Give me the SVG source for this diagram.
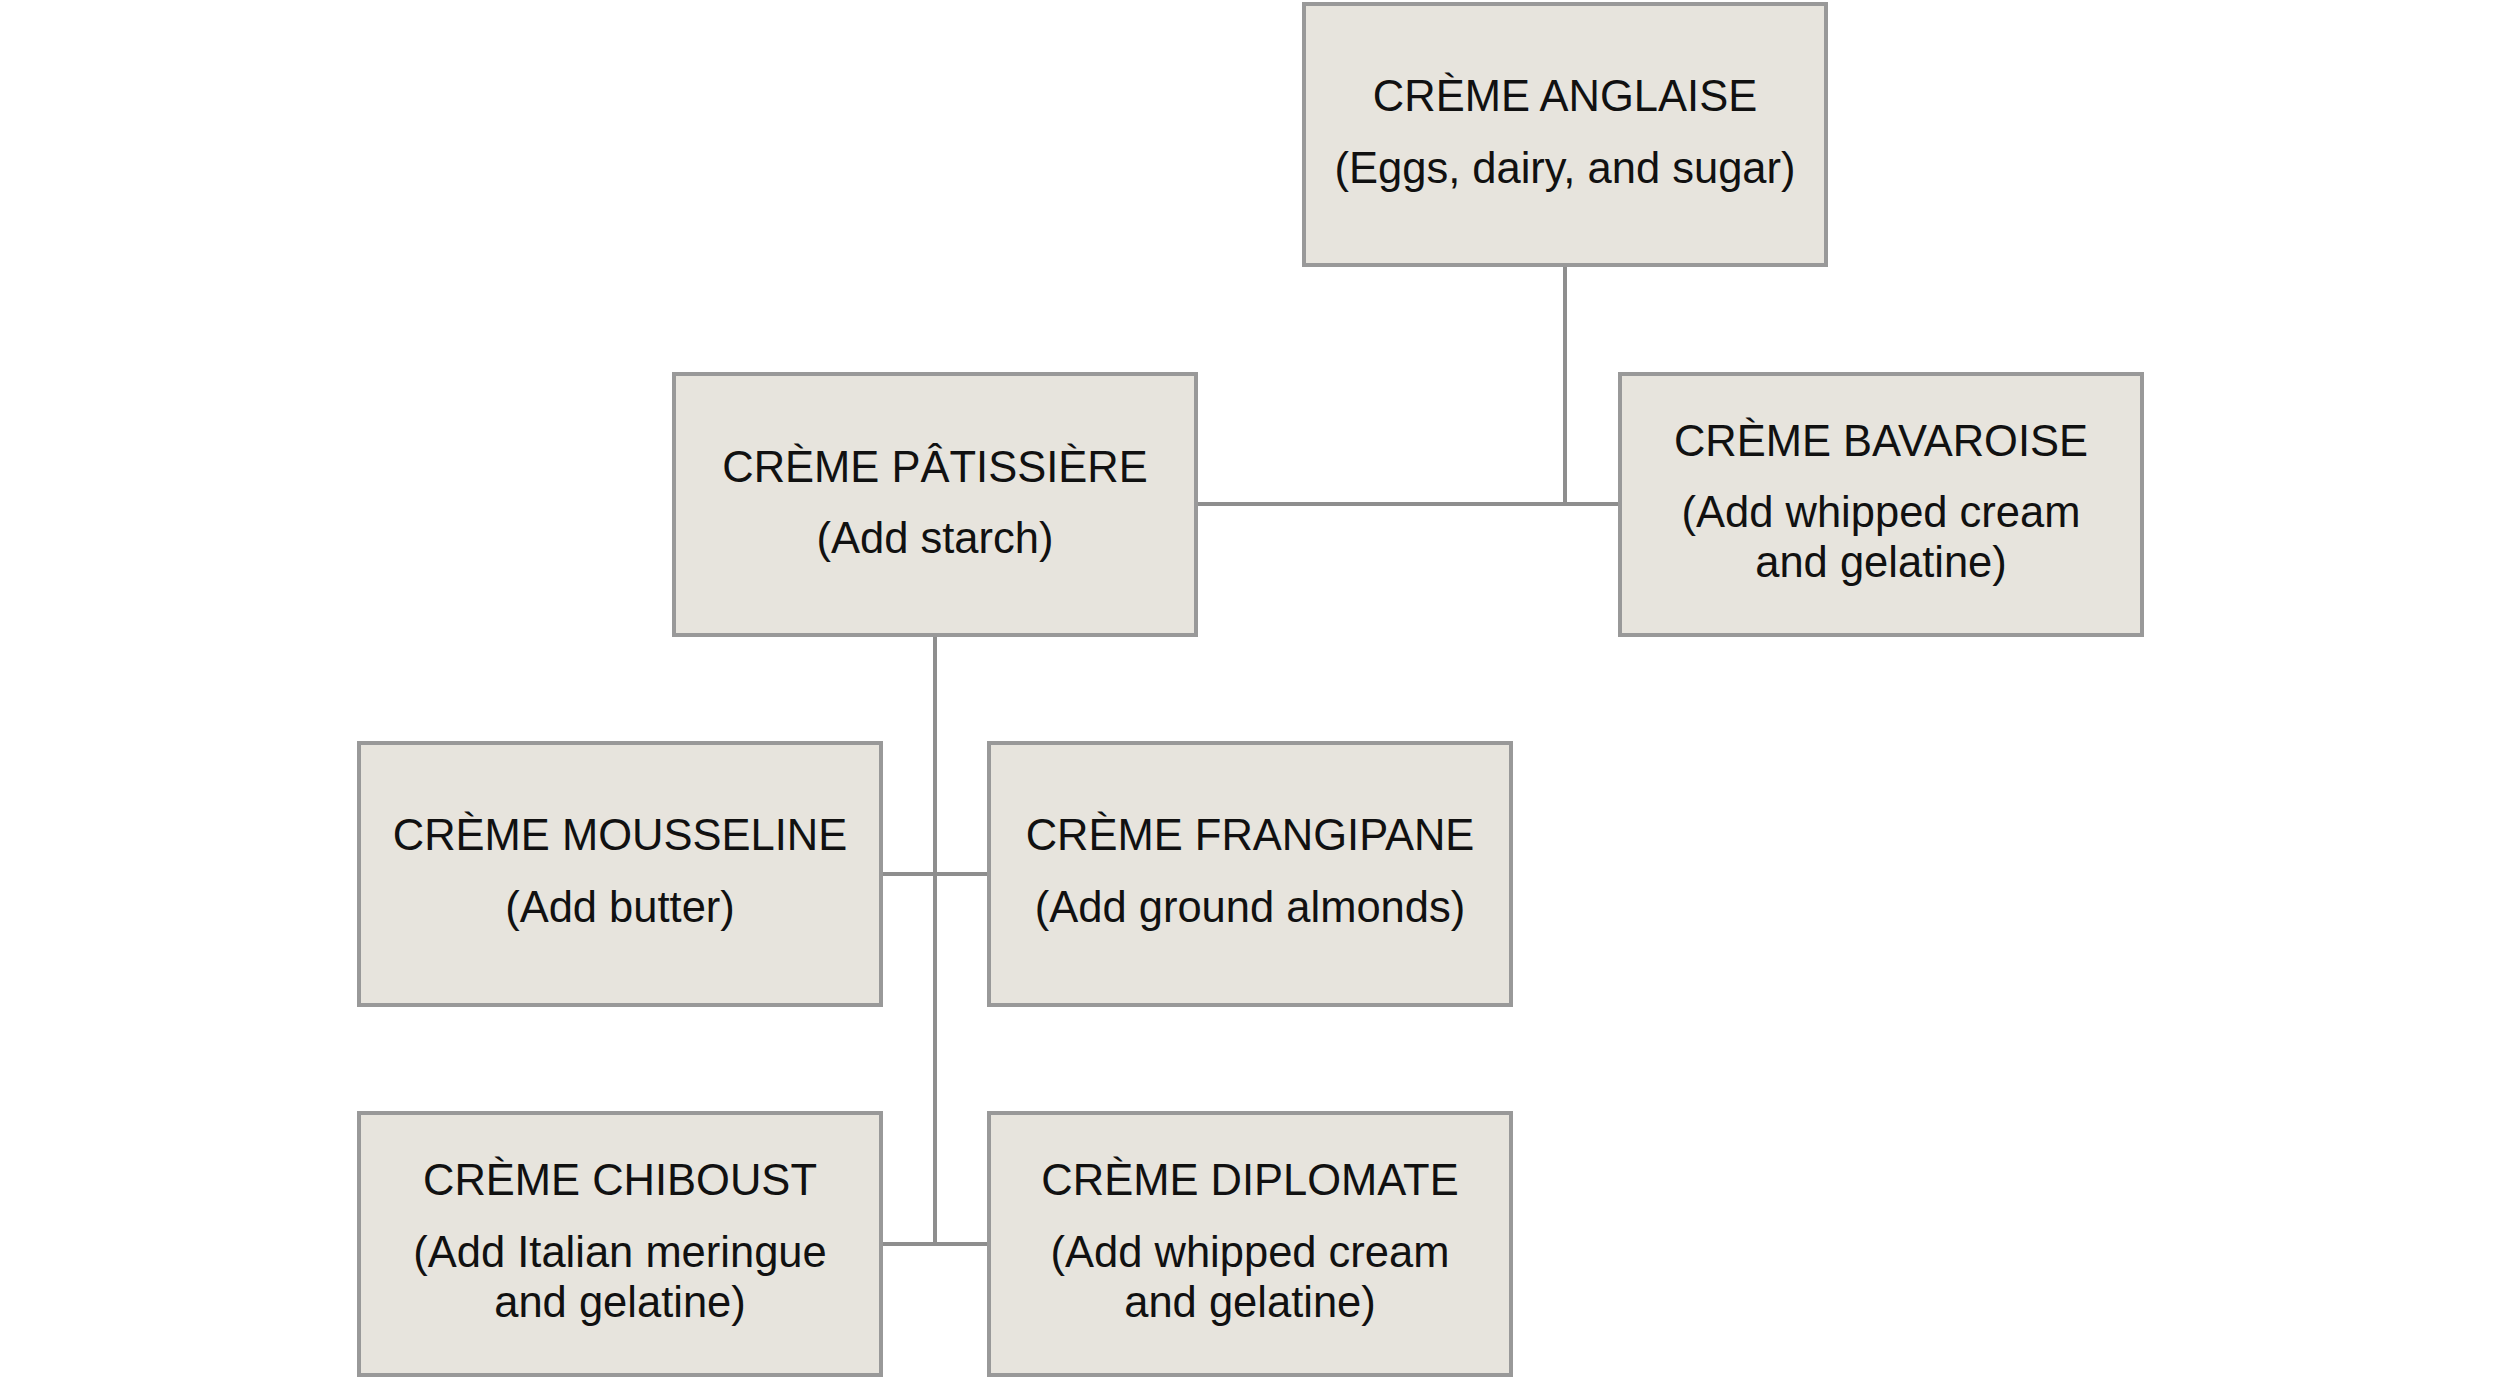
<svg xmlns="http://www.w3.org/2000/svg" width="2500" height="1378" viewBox="0 0 2500 1378">
<style>
.box{fill:#e7e4dd;stroke:#999999;stroke-width:4}
.conn{stroke:#8e8e8e;stroke-width:4;fill:none}
text{font-family:"Liberation Sans",Arial,sans-serif;font-size:43.5px;fill:#111;text-anchor:middle}
</style>
<rect width="2500" height="1378" fill="#ffffff"/>
<g id="connectors">
<line class="conn" x1="1565" y1="265" x2="1565" y2="504"/>
<line class="conn" x1="1196" y1="504" x2="1620" y2="504"/>
<line class="conn" x1="935" y1="635" x2="935" y2="1244"/>
<line class="conn" x1="881" y1="874" x2="989" y2="874"/>
<line class="conn" x1="881" y1="1244" x2="989" y2="1244"/>
</g>
<g id="anglaise">
<rect class="box" x="1304" y="4" width="522" height="261"/>
<text x="1565" y="111">CRÈME ANGLAISE</text>
<text x="1565" y="183">(Eggs, dairy, and sugar)</text>
</g>
<g id="patissiere">
<rect class="box" x="674" y="374" width="522" height="261"/>
<text x="935" y="482">CRÈME PÂTISSIÈRE</text>
<text x="935" y="553">(Add starch)</text>
</g>
<g id="bavaroise">
<rect class="box" x="1620" y="374" width="522" height="261"/>
<text x="1881" y="456">CRÈME BAVAROISE</text>
<text x="1881" y="527">(Add whipped cream</text>
<text x="1881" y="577">and gelatine)</text>
</g>
<g id="mousseline">
<rect class="box" x="359" y="743" width="522" height="262"/>
<text x="620" y="850">CRÈME MOUSSELINE</text>
<text x="620" y="922">(Add butter)</text>
</g>
<g id="frangipane">
<rect class="box" x="989" y="743" width="522" height="262"/>
<text x="1250" y="850">CRÈME FRANGIPANE</text>
<text x="1250" y="922">(Add ground almonds)</text>
</g>
<g id="chiboust">
<rect class="box" x="359" y="1113" width="522" height="262"/>
<text x="620" y="1195">CRÈME CHIBOUST</text>
<text x="620" y="1267">(Add Italian meringue</text>
<text x="620" y="1317">and gelatine)</text>
</g>
<g id="diplomate">
<rect class="box" x="989" y="1113" width="522" height="262"/>
<text x="1250" y="1195">CRÈME DIPLOMATE</text>
<text x="1250" y="1267">(Add whipped cream</text>
<text x="1250" y="1317">and gelatine)</text>
</g>
</svg>
